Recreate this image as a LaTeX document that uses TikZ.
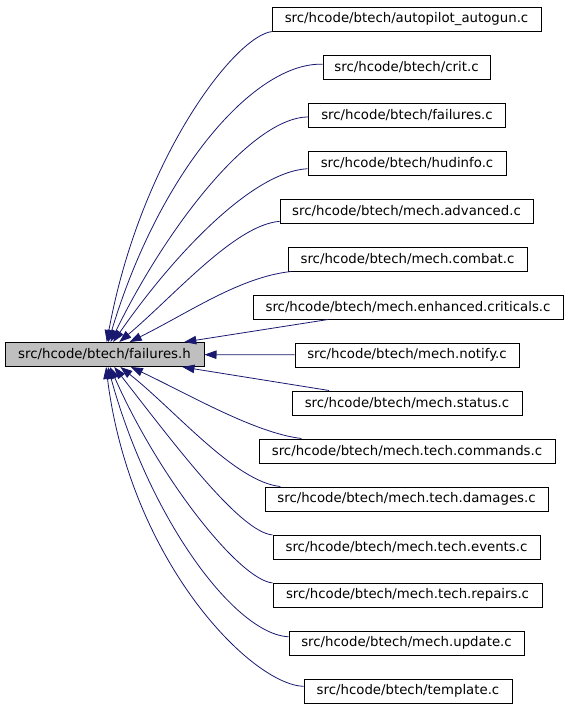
\documentclass[tikz,border=0pt]{standalone}
\usepackage{fontspec}
\setmainfont{DejaVu Sans}
\usetikzlibrary{arrows.meta}
\definecolor{midnight}{RGB}{25,25,112}
\definecolor{grey75}{RGB}{191,191,191}

\begin{document}
\begin{tikzpicture}[x=1pt,y=-1pt,>={Triangle[length=12pt,width=8.5pt]},
  file/.style={draw=black,line width=1pt,inner sep=0pt,minimum height=24pt,
    font=\fontsize{13.3pt}{16pt}\selectfont},
  dep/.style={->,draw=midnight,line width=0.8pt}]
  \useasboundingbox (0,0) rectangle (568,707);

  \node[file,fill=grey75,minimum width=199pt] (failh) at (104.5,354.5)
    {src/hcode/btech/failures.h};

  \node[file,minimum width=269pt] (autogun) at (406.5,19)
    {src/hcode/btech/autopilot\_autogun.c};
  \node[file,minimum width=167pt] (crit) at (406.5,67)
    {src/hcode/btech/crit.c};
  \node[file,minimum width=197pt] (failc) at (407,115)
    {src/hcode/btech/failures.c};
  \node[file,minimum width=198pt] (hudinfo) at (407,163)
    {src/hcode/btech/hudinfo.c};
  \node[file,minimum width=253pt] (advanced) at (406.5,211)
    {src/hcode/btech/mech.advanced.c};
  \node[file,minimum width=239pt] (combat) at (407.5,259)
    {src/hcode/btech/mech.combat.c};
  \node[file,minimum width=310pt] (enhcrit) at (408,307)
    {src/hcode/btech/mech.enhanced.criticals.c};
  \node[file,minimum width=224pt] (notify) at (407,355)
    {src/hcode/btech/mech.notify.c};
  \node[file,minimum width=230pt] (status) at (407,403)
    {src/hcode/btech/mech.status.c};
  \node[file,minimum width=296pt] (techcmd) at (407,451)
    {src/hcode/btech/mech.tech.commands.c};
  \node[file,minimum width=283pt] (techdmg) at (406.5,499)
    {src/hcode/btech/mech.tech.damages.c};
  \node[file,minimum width=267pt] (techevt) at (406.5,547)
    {src/hcode/btech/mech.tech.events.c};
  \node[file,minimum width=269pt] (techrep) at (407.5,595)
    {src/hcode/btech/mech.tech.repairs.c};
  \node[file,minimum width=235pt] (update) at (406.5,643)
    {src/hcode/btech/mech.update.c};
  \node[file,minimum width=208pt] (template) at (408,691)
    {src/hcode/btech/template.c};

  \draw[dep] (autogun) .. controls (235,35) and (140,160) .. (failh);
  \draw[dep] (crit) .. controls (255,62) and (160,170) .. (failh);
  \draw[dep] (failc) .. controls (250,118) and (165,230) .. (failh);
  \draw[dep] (hudinfo) .. controls (250,172) and (170,260) .. (failh);
  \draw[dep] (advanced) .. controls (235,225) and (175,295) .. (failh);
  \draw[dep] (combat) .. controls (240,277) and (190,312) .. (failh);
  \draw[dep] (enhcrit) -- (failh);
  \draw[dep] (notify) -- (failh);
  \draw[dep] (status) -- (failh);
  \draw[dep] (techcmd) .. controls (255,433) and (190,395) .. (failh);
  \draw[dep] (techdmg) .. controls (235,482) and (175,410) .. (failh);
  \draw[dep] (techevt) .. controls (240,532) and (175,445) .. (failh);
  \draw[dep] (techrep) .. controls (240,580) and (160,480) .. (failh);
  \draw[dep] (update) .. controls (235,634) and (150,520) .. (failh);
  \draw[dep] (template) .. controls (250,684) and (130,560) .. (failh);
\end{tikzpicture}
\end{document}
